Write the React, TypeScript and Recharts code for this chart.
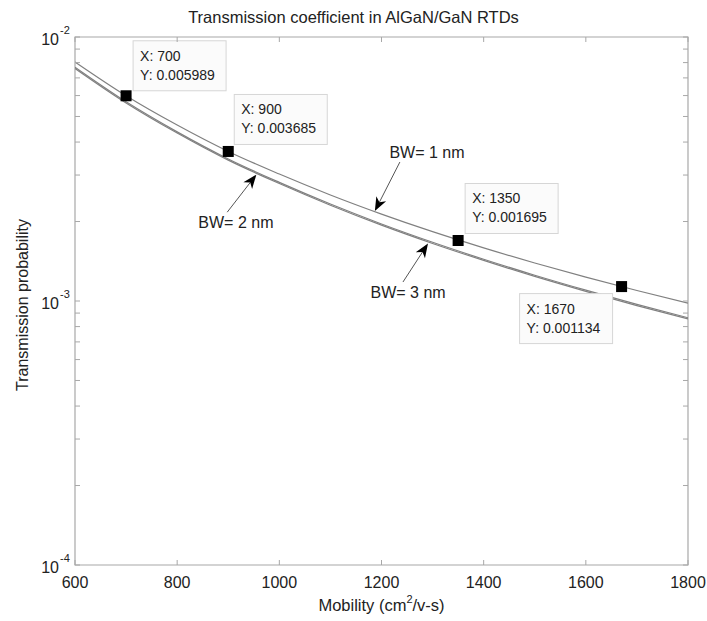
import React from 'react';
import {
  LineChart,
  Line,
  XAxis,
  YAxis,
  ReferenceArea,
  ReferenceDot,
  ReferenceLine,
  Label,
} from 'recharts';

// mobility grid (cm^2/v-s)
const mobility = [600, 700, 800, 900, 1000, 1100, 1200, 1300, 1400, 1500, 1600, 1700, 1800];

// transmission probability for each barrier width
const bw1nm = [0.00804, 0.005989, 0.004638, 0.003685, 0.003026, 0.002521, 0.002134, 0.001831, 0.00159, 0.001393, 0.001231, 0.001096, 0.000982];
const bw2nm = [0.007678, 0.005682, 0.004371, 0.00345, 0.002814, 0.002329, 0.001958, 0.001669, 0.001439, 0.001252, 0.001099, 0.000971, 0.000864];
const bw3nm = [0.007601, 0.005625, 0.004327, 0.003416, 0.002786, 0.002306, 0.001938, 0.001652, 0.001425, 0.001239, 0.001088, 0.000961, 0.000855];

// data cursors
const tipX = [700, 900, 1350, 1670];
const tipY = [0.005989, 0.003685, 0.001695, 0.001134];

// ticks
const xTicks = [600, 800, 1000, 1200, 1400, 1600, 1800];
const yTicks = [
  0.0001, 0.0002, 0.0003, 0.0004, 0.0005, 0.0006, 0.0007, 0.0008, 0.0009,
  0.001, 0.002, 0.003, 0.004, 0.005, 0.006, 0.007, 0.008, 0.009, 0.01,
];

// annotation labels and arrows (tail -> tip, in data units)
const bwLabels = ['BW= 1 nm', 'BW= 2 nm', 'BW= 3 nm'];
const bwLabelAt = [
  { x: 1289, y: 0.00364 },
  { x: 915, y: 0.00199 },
  { x: 1252, y: 0.00108 },
];
const bwArrows = [
  [{ x: 1236, y: 0.00336 }, { x: 1187, y: 0.00219 }],
  [{ x: 898, y: 0.00217 }, { x: 955, y: 0.00301 }],
  [{ x: 1242, y: 0.00118 }, { x: 1291, y: 0.00165 }],
];

const data = mobility.map((m, i) => ({
  mobility: m,
  bw1: bw1nm[i],
  bw2: bw2nm[i],
  bw3: bw3nm[i],
}));

const FONT = '"Liberation Sans", Arial, sans-serif';
const W = 707;
const H = 621;
const PLOT = { left: 75, right: 688, top: 37, bottom: 565 };
const FRAME = '#a8a8a8';
const TEXT = '#222';

// box placement of each data cursor relative to its marker
const tipBox = [
  { dx: 7, dy: -55 },
  { dx: 6, dy: -57 },
  { dx: 7, dy: -57 },
  { dx: -102, dy: 7 },
];

const YTick = (props: any) => {
  const { y, payload } = props;
  const v = payload.value;
  const lg = Math.log10(v);
  const exp = Math.round(lg);
  const major = Math.abs(lg - exp) < 1e-6;
  return (
    <g>
      <line x1={PLOT.left} x2={PLOT.left + 5} y1={y} y2={y} stroke={FRAME} />
      <line x1={PLOT.right - 5} x2={PLOT.right} y1={y} y2={y} stroke={FRAME} />
      {major && (
        <g fontFamily={FONT} fill={TEXT}>
          <text x={59} y={y + 2} textAnchor="end" dominantBaseline="central" fontSize={16}>
            10
          </text>
          <text x={60} y={y - 7} dominantBaseline="central" fontSize={11}>
            {`${exp}`}
          </text>
        </g>
      )}
    </g>
  );
};

const XTick = (props: any) => {
  const { x, payload } = props;
  return (
    <g>
      <line x1={x} x2={x} y1={PLOT.bottom} y2={PLOT.bottom - 5} stroke={FRAME} />
      <line x1={x} x2={x} y1={PLOT.top} y2={PLOT.top + 5} stroke={FRAME} />
      <text
        x={x}
        y={PLOT.bottom + 17}
        textAnchor="middle"
        dominantBaseline="central"
        fontSize={16}
        fontFamily={FONT}
        fill={TEXT}
      >
        {payload.value}
      </text>
    </g>
  );
};

const makeTip = (i: number) => (p: any) => {
  const { cx, cy } = p;
  const bx = cx + tipBox[i].dx;
  const by = cy + tipBox[i].dy;
  return (
    <g>
      <rect x={bx} y={by} width={93} height={50} fill="#fbfbfb" stroke="#d6d6d6" />
      <text x={bx + 7} y={by + 15} dominantBaseline="central" fontSize={14} fontFamily={FONT} fill={TEXT}>
        {`X: ${tipX[i]}`}
      </text>
      <text x={bx + 7} y={by + 34} dominantBaseline="central" fontSize={14} fontFamily={FONT} fill={TEXT}>
        {`Y: ${tipY[i]}`}
      </text>
      <rect x={cx - 5.5} y={cy - 5.5} width={11} height={11} fill="#000" />
    </g>
  );
};

const makeLabel = (i: number) => (p: any) => (
  <text
    x={p.cx}
    y={p.cy}
    textAnchor="middle"
    dominantBaseline="central"
    fontSize={16}
    fontFamily={FONT}
    fill={TEXT}
  >
    {bwLabels[i]}
  </text>
);

const Arrow = (p: any) => {
  const { x1, y1, x2, y2 } = p;
  const ang = Math.atan2(y2 - y1, x2 - x1);
  const len = 14;
  const half = 5.5;
  const ux = Math.cos(ang);
  const uy = Math.sin(ang);
  const bx = x2 - ux * len;
  const by = y2 - uy * len;
  const nx = x2 - ux * (len - 4);
  const ny = y2 - uy * (len - 4);
  const pts = [
    `${x2},${y2}`,
    `${bx - uy * half},${by + ux * half}`,
    `${nx},${ny}`,
    `${bx + uy * half},${by - ux * half}`,
  ].join(' ');
  return (
    <g>
      <line x1={x1} y1={y1} x2={nx} y2={ny} stroke="#555" strokeWidth={1} />
      <polygon points={pts} fill="#000" />
    </g>
  );
};

export default function App() {
  return (
    <div style={{ position: 'absolute', left: 0, top: 0, width: W, height: H, background: '#fff' }}>
      <LineChart
        width={W}
        height={H}
        data={data}
        margin={{ top: PLOT.top, right: W - PLOT.right, bottom: 0, left: 0 }}
      >
        <XAxis
          dataKey="mobility"
          type="number"
          domain={[600, 1800]}
          ticks={xTicks}
          height={H - PLOT.bottom}
          axisLine={false}
          tickLine={false}
          tick={<XTick />}
          interval={0}
          allowDataOverflow
        >
          <Label
            content={() => (
              <text
                x={(PLOT.left + PLOT.right) / 2}
                y={605}
                textAnchor="middle"
                dominantBaseline="central"
                fontSize={16.5}
                fontFamily={FONT}
                fill={TEXT}
              >
                Mobility (cm
                <tspan dy={-6} fontSize={11}>2</tspan>
                <tspan dy={6}>/v-s)</tspan>
              </text>
            )}
          />
        </XAxis>
        <YAxis
          type="number"
          scale="log"
          domain={[0.0001, 0.01]}
          ticks={yTicks}
          width={PLOT.left}
          axisLine={false}
          tickLine={false}
          tick={<YTick />}
          interval={0}
          allowDataOverflow
        >
          <Label
            content={() => (
              <text
                x={22}
                y={305}
                transform="rotate(-90 22 305)"
                textAnchor="middle"
                dominantBaseline="central"
                fontSize={16}
                fontFamily={FONT}
                fill={TEXT}
              >
                Transmission probability
              </text>
            )}
          />
        </YAxis>

        <ReferenceArea x1={600} x2={1800} y1={0.0001} y2={0.01} fill="none" stroke={FRAME} strokeWidth={1.2} />

        <Line type="monotone" dataKey="bw3" stroke="#808080" strokeWidth={1.2} dot={false} isAnimationActive={false} />
        <Line type="monotone" dataKey="bw2" stroke="#808080" strokeWidth={1.2} dot={false} isAnimationActive={false} />
        <Line type="monotone" dataKey="bw1" stroke="#808080" strokeWidth={1.2} dot={false} isAnimationActive={false} />

        {bwArrows.map((seg, i) => (
          <ReferenceLine key={`a${i}`} segment={seg} shape={Arrow} />
        ))}
        {bwLabelAt.map((pt, i) => (
          <ReferenceDot key={`l${i}`} x={pt.x} y={pt.y} r={1} shape={makeLabel(i)} />
        ))}
        {tipX.map((x, i) => (
          <ReferenceDot key={`t${i}`} x={x} y={tipY[i]} r={5} shape={makeTip(i)} />
        ))}
      </LineChart>
      <div
        style={{
          position: 'absolute',
          left: 0,
          top: 8,
          width: W,
          textAlign: 'center',
          fontFamily: FONT,
          fontSize: 16.5,
          color: TEXT,
          lineHeight: '18px',
        }}
      >
        Transmission coefficient in AlGaN/GaN RTDs
      </div>
    </div>
  );
}
